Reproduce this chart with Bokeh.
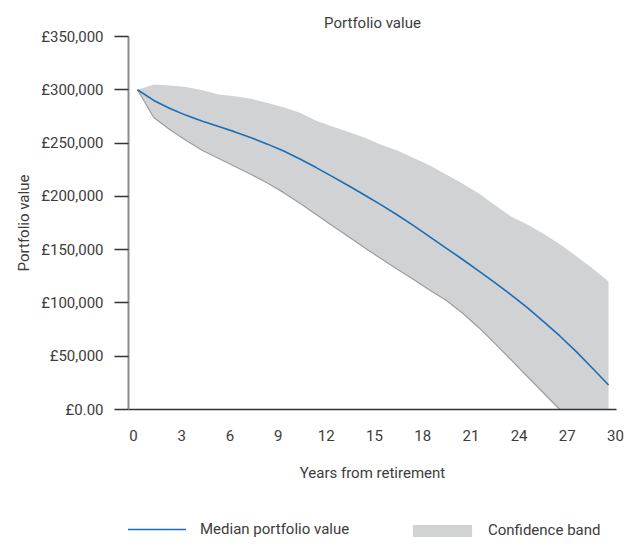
from bokeh.plotting import figure
from bokeh.layouts import column
from bokeh.models import (Range1d, LinearAxis, FixedTicker, Legend, LegendItem,
                          ColumnDataSource)
from bokeh.embed import file_html
from bokeh.resources import INLINE

years = list(range(30))
median = [300000, 290000, 282500, 276000, 270500, 265500, 260500, 255000, 249000, 242500,
          235000, 227000, 218500, 210000, 201000, 192000, 182500, 172500, 162000, 151500,
          141000, 130000, 119000, 107500, 95500, 82500, 69000, 54500, 39000, 23000]
upper = [300000, 305000, 304000, 302500, 299500, 295500, 294000, 291500, 287500, 283500,
         278500, 271000, 265500, 260500, 255000, 248500, 243000, 236000, 229000, 220500,
         212000, 203000, 192000, 181000, 173500, 165000, 155000, 144000, 132500, 120000]
lower = [300000, 274000, 262500, 252500, 243000, 235500, 228000, 220500, 212500, 203500,
         193500, 183000, 172500, 162000, 151500, 141500, 131500, 122000, 112000, 102500,
         90500, 77000, 62000, 46500, 31000, 15500, 0, 0, 0, 0]
x_ticks = [0, 3, 6, 9, 12, 15, 18, 21, 24, 27, 30]
y_ticks = [0, 50000, 100000, 150000, 200000, 250000, 300000, 350000]
y_tick_labels = ["£0.00", "£50,000", "£100,000", "£150,000", "£200,000",
                 "£250,000", "£300,000", "£350,000"]

FONT = "Roboto"
TXT = "#3c3c3c"
BAND = "#d1d2d4"
BLUE = "#1a6eb5"

src = ColumnDataSource(dict(year=years, median=median, upper=upper, lower=lower))

p = figure(width=626, height=490, x_range=Range1d(-0.554, 29.49),
           y_range=Range1d(0, 350000), output_backend="svg", toolbar_location=None,
           x_axis_type=None, min_border_left=128, min_border_right=10,
           min_border_top=36, min_border_bottom=81)
p.outline_line_color = None
p.ygrid.grid_line_color = None

p.title.text = "Portfolio value"
p.title.align = "center"
p.title.text_font = FONT
p.title.text_font_size = "15px"
p.title.text_font_style = "normal"
p.title.text_color = TXT
p.title.offset = 3

p.extra_x_ranges = {"lab": Range1d(-0.311, 30.062)}
xax = LinearAxis(x_range_name="lab", ticker=FixedTicker(ticks=x_ticks))
xax.axis_label = "Years from retirement"
xax.axis_line_color = "#333333"
xax.axis_line_width = 1.5
xax.major_tick_line_color = None
xax.minor_tick_line_color = None
xax.major_tick_out = 0
xax.major_label_standoff = 20
xax.axis_label_standoff = 20
xax.major_label_text_font = FONT
xax.major_label_text_font_size = "15px"
xax.major_label_text_color = TXT
xax.axis_label_text_font = FONT
xax.axis_label_text_font_size = "15px"
xax.axis_label_text_font_style = "normal"
xax.axis_label_text_color = TXT
p.add_layout(xax, "below")

yax = p.yaxis[0]
yax.ticker = FixedTicker(ticks=y_ticks)
yax.major_label_overrides = {t: l for t, l in zip(y_ticks, y_tick_labels)}
yax.axis_label = "Portfolio value"
yax.axis_line_color = "#8c8c8c"
yax.axis_line_width = 2
yax.major_tick_line_color = "#333333"
yax.major_tick_line_width = 1.5
yax.major_tick_out = 14
yax.major_tick_in = 0
yax.minor_tick_line_color = None
yax.major_label_standoff = 11
yax.axis_label_standoff = 5
yax.major_label_text_font = FONT
yax.major_label_text_font_size = "15px"
yax.major_label_text_color = TXT
yax.axis_label_text_font = FONT
yax.axis_label_text_font_size = "15px"
yax.axis_label_text_font_style = "normal"
yax.axis_label_text_color = TXT

p.varea(x="year", y1="lower", y2="upper", source=src, fill_color=BAND, fill_alpha=1)
p.line(x="year", y="lower", source=src, line_color="#9d9d9d", line_width=1.2)
p.line(x="year", y="median", source=src, line_color=BLUE, line_width=1.6)

# legend strip below the chart (its glyphs lie outside its visible ranges)
p2 = figure(width=626, height=50, x_range=Range1d(0, 1), y_range=Range1d(-10, -5),
            output_backend="svg", toolbar_location=None,
            x_axis_location=None, y_axis_location=None,
            min_border_left=0, min_border_right=0, min_border_top=0, min_border_bottom=0)
p2.outline_line_color = None
p2.xgrid.visible = False
p2.ygrid.visible = False
l_band = p2.varea(x="year", y1="lower", y2="upper", source=src, fill_color=BAND, fill_alpha=1)
l_med = p2.line(x="year", y="median", source=src, line_color=BLUE, line_width=1.6)

common = dict(orientation="horizontal", padding=0, margin=0, border_line_color=None,
              background_fill_alpha=0, label_text_font=FONT,
              label_text_font_size="15px", label_text_color=TXT)
leg1 = Legend(items=[LegendItem(label="Median portfolio value", renderers=[l_med])],
              location=(-2, 2), glyph_width=60, glyph_height=12, label_standoff=14,
              **common)
leg2 = Legend(items=[LegendItem(label="Confidence band", renderers=[l_band])],
              location=(277, 1), glyph_width=74, glyph_height=15, label_standoff=9,
              **common)
p2.add_layout(leg1, "center")
p2.add_layout(leg2, "center")

open("out.html", "w").write(file_html(column(p, p2, spacing=0), INLINE))
